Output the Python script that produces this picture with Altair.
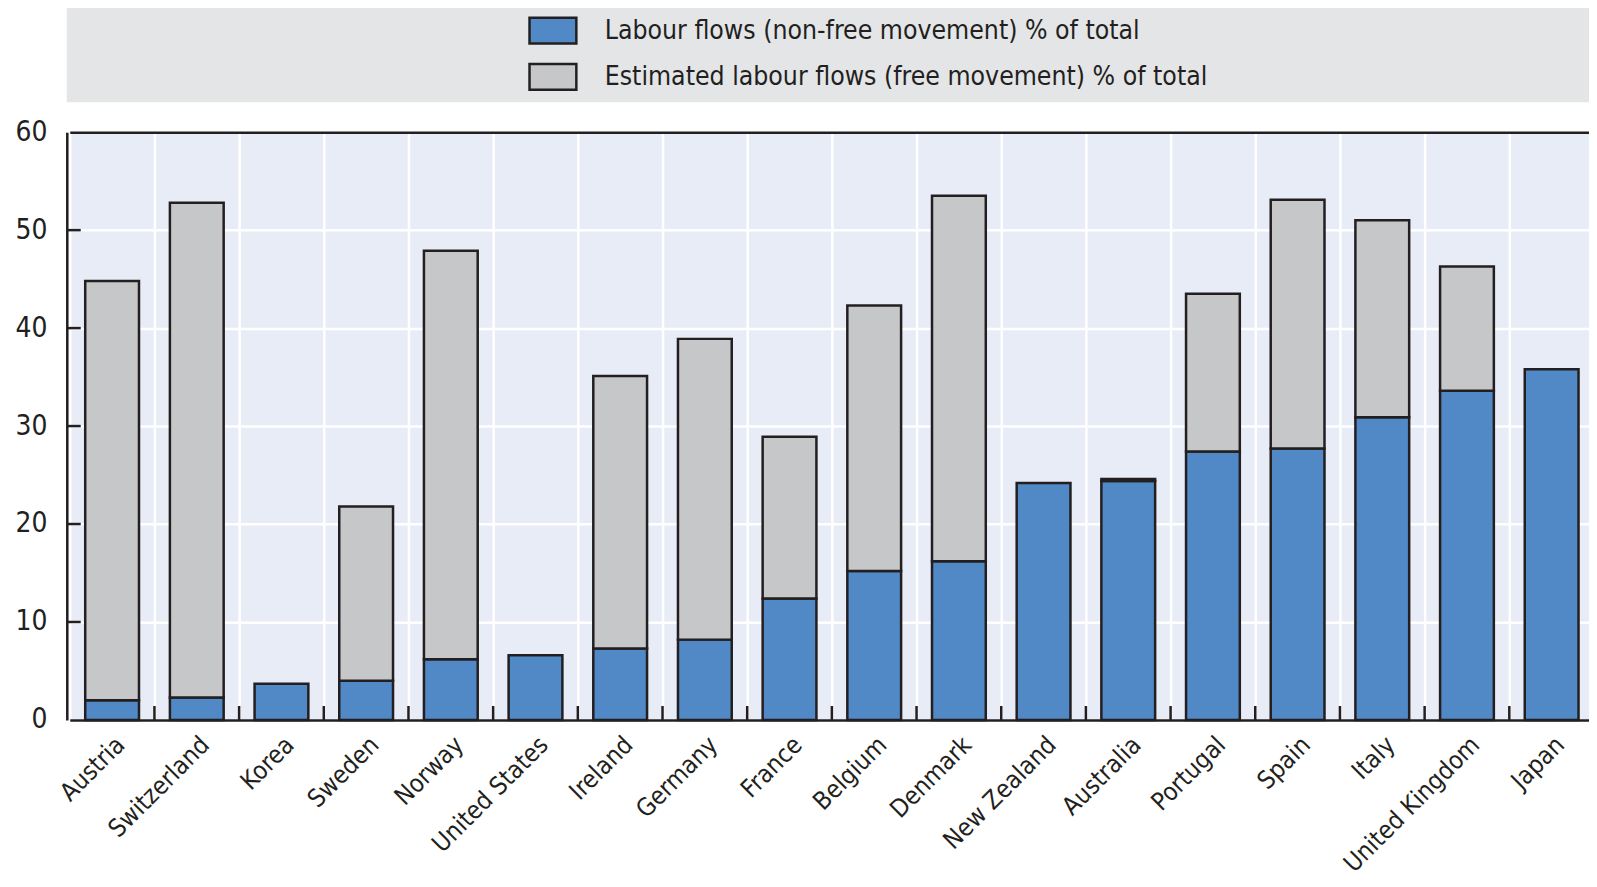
import altair as alt
import pandas as pd

countries = ["Austria", "Switzerland", "Korea", "Sweden", "Norway", "United States",
             "Ireland", "Germany", "France", "Belgium", "Denmark", "New Zealand",
             "Australia", "Portugal", "Spain", "Italy", "United Kingdom", "Japan"]
non_free = [2.0, 2.3, 3.7, 4.0, 6.2, 6.6, 7.3, 8.2, 12.4, 15.2, 16.2, 24.2,
            24.4, 27.4, 27.7, 30.9, 33.6, 35.8]
free = [42.8, 50.5, 0.0, 17.8, 41.7, 0.0, 27.8, 30.7, 16.5, 27.1, 37.3, 0.0,
        0.2, 16.1, 25.4, 20.1, 12.7, 0.0]
series = ["Labour flows (non-free movement) % of total",
          "Estimated labour flows (free movement) % of total"]
y_ticks = [0, 10, 20, 30, 40, 50, 60]
inner_y_ticks = [10, 20, 30, 40, 50]

rows = []
for c, a, b in zip(countries, non_free, free):
    if a > 0:
        rows.append({"country": c, "series": series[0], "value": a, "ord": 0})
    if b > 0:
        rows.append({"country": c, "series": series[1], "value": b, "ord": 1})
df = pd.DataFrame(rows)

FONT = "Liberation Sans Narrow, Arial Narrow, DejaVu Sans Condensed, sans-serif"
DARK = "#231f20"
BLUE = "#5089c6"
GREY = "#c6c7c9"
W, H = 1528, 590

xscale = alt.Scale(type="band", domain=countries, paddingInner=0, paddingOuter=0,
                   range=[3, 1533])
yscale = alt.Scale(domain=[0, 60], nice=False)

base = alt.Chart(df)

# legend box (background)
box = alt.Chart(alt.Data(values=[{}])).mark_rect(color="#e4e5e7").encode(
    x=alt.value(0), x2=alt.value(W + 10), y=alt.value(-129), y2=alt.value(-30)
)

# gridlines
grid = base.mark_bar(opacity=0).encode(
    x=alt.X("country:N", scale=xscale, sort=countries,
            axis=alt.Axis(orient="bottom", grid=True, tickBand="extent", labels=False,
                          ticks=False, domain=False, title=None, gridColor="white",
                          gridWidth=2.5, gridOpacity=1, zindex=0)),
    y=alt.Y("value:Q", scale=yscale, stack=None,
            axis=alt.Axis(orient="left", grid=True, values=y_ticks, labels=False,
                          ticks=False, domain=False, title=None, gridColor="white",
                          gridWidth=2.5, gridOpacity=1, zindex=0)),
)

bars = base.mark_bar(stroke=DARK, strokeWidth=2.5,
                     width=alt.RelativeBandSize(0.635)).encode(
    x=alt.X("country:N", scale=xscale, sort=countries,
            axis=alt.Axis(orient="bottom", grid=False, ticks=False, domain=True,
                          domainColor=DARK, domainWidth=2.5, title=None,
                          labelAngle=-45, labelFontSize=25, labelFont=FONT,
                          labelColor=DARK, labelPadding=12, labelLimit=0,
                          zindex=1)),
    y=alt.Y("value:Q", scale=yscale, stack="zero",
            axis=alt.Axis(orient="left", grid=False, ticks=False, values=y_ticks,
                          domain=True, domainColor=DARK, domainWidth=2.5,
                          title=None, labelFontSize=28, labelFont=FONT,
                          labelColor=DARK, labelPadding=20, zindex=1)),
    color=alt.Color("series:N",
                    scale=alt.Scale(domain=series, range=[BLUE, GREY]),
                    legend=alt.Legend(orient="none", legendX=463, legendY=-127,
                                      title=None, direction="vertical",
                                      symbolType="M-1,-0.55H1V0.55H-1Z",
                                      symbolSize=2209, symbolStrokeColor=DARK,
                                      symbolStrokeWidth=2.5, symbolOpacity=1,
                                      labelFontSize=26.5, labelFont=FONT,
                                      labelColor=DARK, labelOffset=27,
                                      rowPadding=3.5, padding=0, labelLimit=0)),
    order=alt.Order("ord:Q"),
)

# inward tick marks on the x axis (band boundaries) and the y axis
xticks = alt.Chart(alt.Data(values=[{"country": c} for c in countries[:-1]])).mark_rule(
    color=DARK, strokeWidth=2.5
).encode(
    x=alt.X("country:N", scale=xscale, sort=countries, bandPosition=1, axis=None),
    y=alt.value(H - 14), y2=alt.value(H),
)
yticks = alt.Chart(alt.Data(values=[{"v": v} for v in inner_y_ticks])).mark_rule(
    color=DARK, strokeWidth=2.5
).encode(
    y=alt.Y("v:Q", scale=yscale, axis=None),
    x=alt.value(0), x2=alt.value(14),
)

# top border
top = base.mark_bar(opacity=0).encode(
    x=alt.X("country:N", scale=xscale, sort=countries,
            axis=alt.Axis(orient="top", ticks=False, labels=False, grid=False,
                          domain=True, domainColor=DARK, domainWidth=2.5,
                          title=None, zindex=1)),
    y=alt.Y("value:Q", scale=yscale, stack=None, axis=None),
)

chart = alt.layer(box, grid, bars, xticks, yticks, top).resolve_axis(
    x="independent", y="independent"
).properties(
    width=W, height=H,
    background="white",
    padding={"left": 59, "top": 123, "right": 0, "bottom": 157},
    autosize=alt.AutoSizeParams(type="none"),
).configure_view(
    fill="#e8ecf6", stroke=None
)

chart.save("out.html", embed_options={"renderer": "svg", "actions": False})
